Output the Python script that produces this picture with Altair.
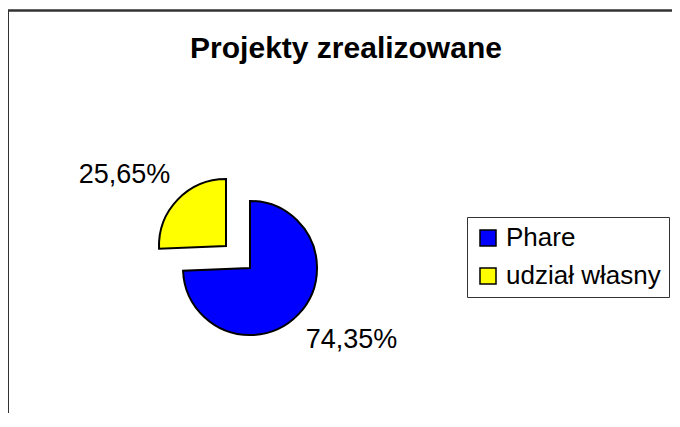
import altair as alt
import pandas as pd

# ---- data ----
categories = ["Phare", "udział własny"]
values = [74.35, 25.65]
colors = ["#0000FF", "#FFFF00"]
order = [0, 1]

df = pd.DataFrame({"kategoria": categories, "wartosc": values, "kolejnosc": order})

W, H = 664, 405
R = 67
CX, CY = 242, 260          # centre of the main pie (view pixels)
EX, EY = -24, -22          # explosion of the second slice
LR = 120                   # label radius

base = (
    alt.Chart(df)
    .transform_joinaggregate(total="sum(wartosc)")
    .transform_window(cum="sum(wartosc)", sort=[alt.SortField("kolejnosc")])
    .transform_calculate(
        start="2*PI*(datum.cum - datum.wartosc)/datum.total",
        end="2*PI*datum.cum/datum.total",
        mid="PI*(2*datum.cum - datum.wartosc)/datum.total",
        label="replace(format(datum.wartosc, '.2f'), '.', ',') + '%'",
    )
)

color = alt.Color(
    "kategoria:N",
    scale=alt.Scale(domain=categories, range=colors),
    legend=alt.Legend(
        title=None,
        orient="none",
        legendX=459,
        legendY=209,
        strokeColor="#333333",
        fillColor="white",
        padding=8,
        symbolType="square",
        symbolSize=256,
        symbolStrokeColor="black",
        symbolStrokeWidth=1.5,
        symbolOpacity=1,
        labelFontSize=26,
        labelFont="Liberation Sans",
        labelColor="black",
        labelOffset=5,
        rowPadding=12,
        labelLimit=400,
    ),
)

def slice_layer(name, cx, cy):
    return (
        base.transform_filter(alt.datum.kategoria == name)
        .mark_arc(stroke="black", strokeWidth=2, outerRadius=R, opacity=1)
        .encode(
            theta=alt.Theta("start:Q", scale=None),
            theta2="end:Q",
            color=color,
            x=alt.value(cx),
            y=alt.value(cy),
        )
    )

def label_layer(name, cx, cy, dx, dy):
    return (
        base.transform_filter(alt.datum.kategoria == name)
        .mark_text(
            radius=LR,
            fontSize=27,
            font="Liberation Sans",
            color="black",
            align="center",
            baseline="middle",
            dx=dx,
            dy=dy,
        )
        .encode(
            theta=alt.Theta("mid:Q", scale=None),
            text="label:N",
            x=alt.value(cx),
            y=alt.value(cy),
        )
    )

border_top = base.mark_rule(color="#333333", strokeWidth=2).encode(
    x=alt.value(0), x2=alt.value(W), y=alt.value(2.5)
)
border_left = base.mark_rule(color="#333333", strokeWidth=2).encode(
    x=alt.value(0), y=alt.value(2.5), y2=alt.value(H + 10)
)

chart = (
    alt.layer(
        border_top,
        border_left,
        slice_layer("Phare", CX, CY),
        slice_layer("udział własny", CX + EX, CY + EY),
        label_layer("Phare", CX, CY, 15, -11),
        label_layer("udział własny", CX + EX, CY + EY, -15, 12),
    )
    .properties(
        width=W,
        height=H,
        autosize=alt.AutoSizeParams(type="none"),
        padding={"left": 0, "top": 0, "right": 0, "bottom": 0},
        title=alt.TitleParams(
            "Projekty zrealizowane",
            fontSize=30,
            fontWeight="bold",
            font="Liberation Sans",
            color="black",
            anchor="middle",
            dx=6,
            dy=60,
        ),
    )
    .configure_view(stroke=None)
)

chart.save("out.html", embed_options={"renderer": "svg", "actions": False})
